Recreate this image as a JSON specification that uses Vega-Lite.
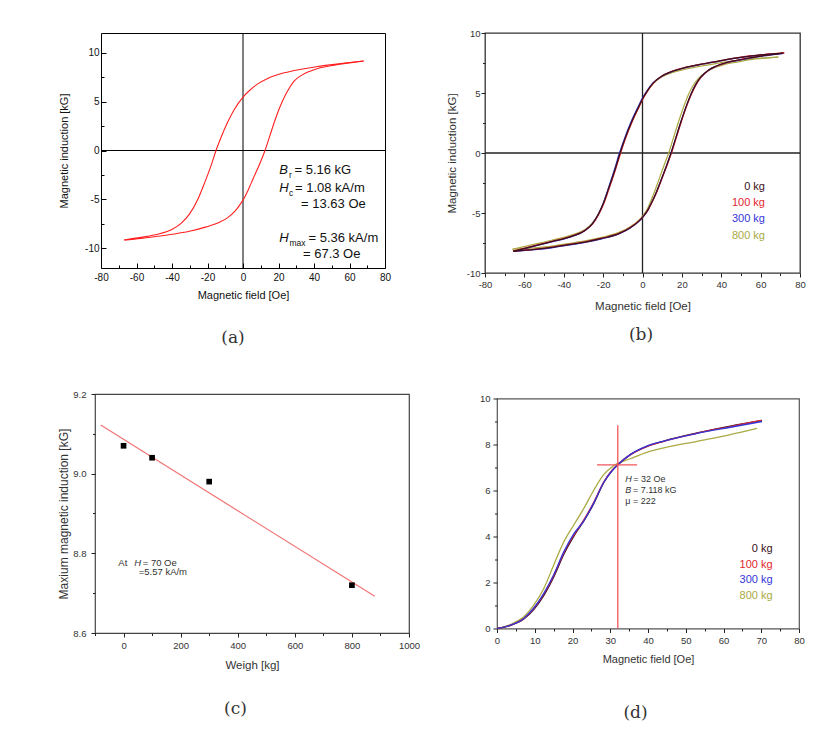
{
"$schema": "https://vega.github.io/schema/vega-lite/v6.json",
"background": "white",
"padding": {"left": 56, "top": 27, "right": 5, "bottom": 5},
"config": {
  "font": "Liberation Sans",
  "axis": {"grid": false, "domain": false, "labelFont": "Liberation Sans", "titleFont": "Liberation Sans", "titleFontWeight": "normal", "labelColor": "#222", "titleColor": "#222", "tickColor": "#222", "labelFlush": false, "labelOverlap": false},
  "title": {"font": "DejaVu Serif", "fontSize": 17, "fontWeight": "normal", "color": "#333"},
  "text": {"font": "Liberation Sans"}
},
"spacing": 41,
"vconcat": [
 {"hconcat": [
  {"width": 1, "height": 1, "view": {"stroke": null}, "data": {"values": [{"v": 0}]}, "mark": {"type": "point", "opacity": 0}},
  {"hconcat": [
  {
   "width": 284, "height": 235,
   "view": {"stroke": "#000", "strokeWidth": 1},
   "title": {"text": "(a)", "orient": "bottom", "frame": "group", "anchor": "middle", "dx": -10, "offset": 30},
   "resolve": {"axis": {"x": "independent", "y": "independent"}},
   "layer": [
    {"data": {"values": [{"x": 0}]}, "mark": {"type": "rule", "color": "#000", "strokeWidth": 1},
     "encoding": {"x": {"field": "x", "type": "quantitative", "scale": {"domain": [-80, 80], "nice": false, "zero": false}, "axis": null}}},
    {"data": {"values": [{"y": 0}]}, "mark": {"type": "rule", "color": "#000", "strokeWidth": 1},
     "encoding": {"y": {"field": "y", "type": "quantitative", "scale": {"domain": [-12, 12], "nice": false, "zero": false}, "axis": null}}},
    {"data": {"values": [
      {"b":"d","x":-66.9,"y":-9.14},{"b":"d","x":-57.5,"y":-8.87},{"b":"d","x":-48.1,"y":-8.56},{"b":"d","x":-39.6,"y":-8.02},{"b":"d","x":-34.9,"y":-7.45},
      {"b":"d","x":-30.2,"y":-6.5},{"b":"d","x":-25.5,"y":-5.0},{"b":"d","x":-21.8,"y":-3.38},{"b":"d","x":-18.0,"y":-1.55},{"b":"d","x":-15.2,"y":0},
      {"b":"d","x":-12.4,"y":1.33},{"b":"d","x":-8.6,"y":2.91},{"b":"d","x":-4.9,"y":4.19},{"b":"d","x":0,"y":5.45},{"b":"d","x":3.5,"y":6.1},
      {"b":"d","x":8.3,"y":6.8},{"b":"d","x":13.9,"y":7.36},{"b":"d","x":23.3,"y":7.94},{"b":"d","x":32.7,"y":8.3},{"b":"d","x":42.1,"y":8.58},
      {"b":"d","x":51.5,"y":8.8},{"b":"d","x":60,"y":8.98},{"b":"d","x":68,"y":9.14},
      {"b":"a","x":-66.9,"y":-9.14},{"b":"a","x":-57.5,"y":-8.97},{"b":"a","x":-48.1,"y":-8.76},{"b":"a","x":-39.6,"y":-8.55},{"b":"a","x":-30.2,"y":-8.25},
      {"b":"a","x":-20.7,"y":-7.8},{"b":"a","x":-13,"y":-7.3},{"b":"a","x":-8.6,"y":-6.85},{"b":"a","x":-4.5,"y":-6.2},{"b":"a","x":-1.4,"y":-5.45},
      {"b":"a","x":0.2,"y":-5.0},{"b":"a","x":3.0,"y":-4.0},{"b":"a","x":6.0,"y":-2.75},{"b":"a","x":9.2,"y":-1.45},{"b":"a","x":12.4,"y":0},
      {"b":"a","x":15.2,"y":1.55},{"b":"a","x":18.6,"y":3.4},{"b":"a","x":22.0,"y":4.95},{"b":"a","x":25.5,"y":6.2},{"b":"a","x":28.9,"y":7.1},
      {"b":"a","x":32.7,"y":7.65},{"b":"a","x":37,"y":8.05},{"b":"a","x":42.1,"y":8.38},{"b":"a","x":51.5,"y":8.72},{"b":"a","x":60,"y":8.95},{"b":"a","x":68,"y":9.14}
     ]},
     "mark": {"type": "line", "color": "#ff1f1f", "strokeWidth": 1.1, "interpolate": "monotone"},
     "encoding": {
      "x": {"field": "x", "type": "quantitative", "scale": {"domain": [-80, 80], "nice": false, "zero": false},
            "axis": {"orient": "bottom", "values": [-80,-60,-40,-20,0,20,40,60,80], "labelExpr": "(datum.value < 0 ? '-' : '') + abs(datum.value)", "tickSize": -5, "tickColor": "#000", "labelPadding": 9.7, "labelFontSize": 10, "labelColor": "#111", "title": "Magnetic field [Oe]", "titleFontSize": 11, "titleColor": "#111", "titleY": 21}},
      "y": {"field": "y", "type": "quantitative", "scale": {"domain": [-12, 12], "nice": false, "zero": false},
            "axis": {"orient": "left", "values": [-10,-5,0,5,10], "labelExpr": "(datum.value < 0 ? '-' : '') + abs(datum.value)", "tickSize": -5, "tickColor": "#000", "labelPadding": 7, "labelFontSize": 10, "labelColor": "#111", "title": "Magnetic induction [kG]", "titleFontSize": 11, "titleColor": "#111", "titleX": -31.5}},
      "detail": {"field": "b"}
     }},
    {"data": {"values": [{"x": 0, "y": 0}]}, "mark": {"type": "point", "opacity": 0},
     "encoding": {
      "x": {"field": "x", "type": "quantitative", "scale": {"domain": [-80, 80], "nice": false, "zero": false},
            "axis": {"orient": "bottom", "values": [-70,-50,-30,-10,10,30,50,70], "labels": false, "tickSize": -3, "tickColor": "#000", "title": null}},
      "y": {"field": "y", "type": "quantitative", "scale": {"domain": [-12, 12], "nice": false, "zero": false},
            "axis": {"orient": "left", "values": [-7.5,-2.5,2.5,7.5], "labels": false, "tickSize": -3, "tickColor": "#000", "title": null}}
     }},
    {"data": {"values": [{"x":20.45,"y":-2.45,"t":"B"},{"x":20.45,"y":-4.24,"t":"H"},{"x":20.45,"y":-9.34,"t":"H"}]},
     "mark": {"type": "text", "align": "left", "baseline": "alphabetic", "fontSize": 13, "fontStyle": "italic", "color": "#111"},
     "encoding": {"x": {"field": "x", "type": "quantitative", "scale": {"domain": [-80, 80], "nice": false, "zero": false}, "axis": null},
                  "y": {"field": "y", "type": "quantitative", "scale": {"domain": [-12, 12], "nice": false, "zero": false}, "axis": null},
                  "text": {"field": "t"}}},
    {"data": {"values": [{"x":25.9,"y":-2.81,"t":"r"},{"x":25.9,"y":-4.65,"t":"c"},{"x":26.2,"y":-9.75,"t":"max"}]},
     "mark": {"type": "text", "align": "left", "baseline": "alphabetic", "fontSize": 8.5, "color": "#111"},
     "encoding": {"x": {"field": "x", "type": "quantitative", "scale": {"domain": [-80, 80], "nice": false, "zero": false}, "axis": null},
                  "y": {"field": "y", "type": "quantitative", "scale": {"domain": [-12, 12], "nice": false, "zero": false}, "axis": null},
                  "text": {"field": "t"}}},
    {"data": {"values": [{"x":29.0,"y":-2.45,"t":"= 5.16 kG"},{"x":29.3,"y":-4.24,"t":"= 1.08 kA/m"},{"x":32.7,"y":-5.84,"t":"= 13.63 Oe"},{"x":36.9,"y":-9.34,"t":"= 5.36 kA/m"},{"x":33.8,"y":-11.01,"t":"= 67.3 Oe"}]},
     "mark": {"type": "text", "align": "left", "baseline": "alphabetic", "fontSize": 13, "color": "#111"},
     "encoding": {"x": {"field": "x", "type": "quantitative", "scale": {"domain": [-80, 80], "nice": false, "zero": false}, "axis": null},
                  "y": {"field": "y", "type": "quantitative", "scale": {"domain": [-12, 12], "nice": false, "zero": false}, "axis": null},
                  "text": {"field": "t"}}}
   ]
  },
  {
   "width": 315, "height": 240,
   "view": {"stroke": "#333", "strokeWidth": 1.3},
   "title": {"text": "(b)", "orient": "bottom", "frame": "group", "anchor": "middle", "dx": -1.5, "offset": 15.4},
   "resolve": {"axis": {"x": "independent", "y": "independent"}},
   "layer": [
    {"data": {"values": [{"x": 0}]}, "mark": {"type": "rule", "color": "#222", "strokeWidth": 1.3},
     "encoding": {"x": {"field": "x", "type": "quantitative", "scale": {"domain": [-80, 80], "nice": false, "zero": false}, "axis": null}}},
    {"data": {"values": [{"y": 0}]}, "mark": {"type": "rule", "color": "#222", "strokeWidth": 1.3},
     "encoding": {"y": {"field": "y", "type": "quantitative", "scale": {"domain": [-10, 10], "nice": false, "zero": false}, "axis": null}}},
    {"data": {"values": [
      {"s":"800 kg","b":"d","x":-66,"y":-8.02},{"s":"800 kg","b":"d","x":-56.3,"y":-7.65},{"s":"800 kg","b":"d","x":-46.1,"y":-7.27},{"s":"800 kg","b":"d","x":-36,"y":-6.85},{"s":"800 kg","b":"d","x":-29.2,"y":-6.38},
      {"s":"800 kg","b":"d","x":-25.5,"y":-5.85},{"s":"800 kg","b":"d","x":-22.4,"y":-5.07},{"s":"800 kg","b":"d","x":-20,"y":-4.23},{"s":"800 kg","b":"d","x":-17.4,"y":-3.04},{"s":"800 kg","b":"d","x":-14,"y":-1.4},
      {"s":"800 kg","b":"d","x":-11.3,"y":0},{"s":"800 kg","b":"d","x":-8.8,"y":1.2},{"s":"800 kg","b":"d","x":-5.4,"y":2.6},{"s":"800 kg","b":"d","x":-2.0,"y":3.8},{"s":"800 kg","b":"d","x":0.4,"y":4.6},
      {"s":"800 kg","b":"d","x":2.6,"y":5.18},{"s":"800 kg","b":"d","x":5.6,"y":5.8},{"s":"800 kg","b":"d","x":9.7,"y":6.33},{"s":"800 kg","b":"d","x":15,"y":6.7},{"s":"800 kg","b":"d","x":21.6,"y":6.98},
      {"s":"800 kg","b":"d","x":30,"y":7.25},{"s":"800 kg","b":"d","x":38.5,"y":7.48},{"s":"800 kg","b":"d","x":47,"y":7.7},{"s":"800 kg","b":"d","x":55.4,"y":7.85},{"s":"800 kg","b":"d","x":63,"y":7.93},{"s":"800 kg","b":"d","x":69,"y":8.0},
      {"s":"800 kg","b":"a","x":-66,"y":-8.02},{"s":"800 kg","b":"a","x":-54.6,"y":-7.9},{"s":"800 kg","b":"a","x":-46.1,"y":-7.76},{"s":"800 kg","b":"a","x":-37.7,"y":-7.55},{"s":"800 kg","b":"a","x":-29.2,"y":-7.33},
      {"s":"800 kg","b":"a","x":-20.7,"y":-7.03},{"s":"800 kg","b":"a","x":-12,"y":-6.62},{"s":"800 kg","b":"a","x":-6,"y":-6.12},{"s":"800 kg","b":"a","x":-2.1,"y":-5.64},{"s":"800 kg","b":"a","x":0.3,"y":-5.22},
      {"s":"800 kg","b":"a","x":2.3,"y":-4.72},{"s":"800 kg","b":"a","x":4.2,"y":-4.0},{"s":"800 kg","b":"a","x":6.4,"y":-3.1},{"s":"800 kg","b":"a","x":8.7,"y":-2.05},{"s":"800 kg","b":"a","x":11.0,"y":-1.0},
      {"s":"800 kg","b":"a","x":13.3,"y":0},{"s":"800 kg","b":"a","x":15.8,"y":1.3},{"s":"800 kg","b":"a","x":18.3,"y":2.6},{"s":"800 kg","b":"a","x":20.8,"y":3.8},{"s":"800 kg","b":"a","x":23.3,"y":4.85},
      {"s":"800 kg","b":"a","x":25.8,"y":5.65},{"s":"800 kg","b":"a","x":28.3,"y":6.2},{"s":"800 kg","b":"a","x":32.3,"y":6.75},{"s":"800 kg","b":"a","x":36.5,"y":7.1},{"s":"800 kg","b":"a","x":41,"y":7.35},
      {"s":"800 kg","b":"a","x":48,"y":7.58},{"s":"800 kg","b":"a","x":55,"y":7.78},{"s":"800 kg","b":"a","x":63,"y":7.92},{"s":"800 kg","b":"a","x":69,"y":8.0},

      {"s":"300 kg","b":"d","x":-65.6,"y":-8.2},{"s":"300 kg","b":"d","x":-56.3,"y":-7.82},{"s":"300 kg","b":"d","x":-46.1,"y":-7.4},{"s":"300 kg","b":"d","x":-36,"y":-6.97},{"s":"300 kg","b":"d","x":-29.3,"y":-6.47},
      {"s":"300 kg","b":"d","x":-25.6,"y":-5.92},{"s":"300 kg","b":"d","x":-22.5,"y":-5.12},{"s":"300 kg","b":"d","x":-20.1,"y":-4.27},{"s":"300 kg","b":"d","x":-17.6,"y":-3.07},{"s":"300 kg","b":"d","x":-14.3,"y":-1.42},
      {"s":"300 kg","b":"d","x":-11.7,"y":0},{"s":"300 kg","b":"d","x":-9.2,"y":1.18},{"s":"300 kg","b":"d","x":-5.9,"y":2.56},{"s":"300 kg","b":"d","x":-2.6,"y":3.72},{"s":"300 kg","b":"d","x":-0.3,"y":4.5},
      {"s":"300 kg","b":"d","x":2.2,"y":5.16},{"s":"300 kg","b":"d","x":5.3,"y":5.83},{"s":"300 kg","b":"d","x":9.7,"y":6.38},{"s":"300 kg","b":"d","x":15,"y":6.78},{"s":"300 kg","b":"d","x":21.6,"y":7.1},
      {"s":"300 kg","b":"d","x":30,"y":7.38},{"s":"300 kg","b":"d","x":38.5,"y":7.63},{"s":"300 kg","b":"d","x":47,"y":7.88},{"s":"300 kg","b":"d","x":55.4,"y":8.08},{"s":"300 kg","b":"d","x":63,"y":8.2},{"s":"300 kg","b":"d","x":71.5,"y":8.3},
      {"s":"300 kg","b":"a","x":-65.6,"y":-8.2},{"s":"300 kg","b":"a","x":-54.6,"y":-8.06},{"s":"300 kg","b":"a","x":-46.1,"y":-7.9},{"s":"300 kg","b":"a","x":-37.7,"y":-7.68},{"s":"300 kg","b":"a","x":-29.2,"y":-7.45},
      {"s":"300 kg","b":"a","x":-20.7,"y":-7.15},{"s":"300 kg","b":"a","x":-12,"y":-6.74},{"s":"300 kg","b":"a","x":-6,"y":-6.22},{"s":"300 kg","b":"a","x":-2.1,"y":-5.74},{"s":"300 kg","b":"a","x":0.3,"y":-5.32},
      {"s":"300 kg","b":"a","x":2.5,"y":-4.82},{"s":"300 kg","b":"a","x":4.7,"y":-4.12},{"s":"300 kg","b":"a","x":7.2,"y":-3.22},{"s":"300 kg","b":"a","x":9.7,"y":-2.17},{"s":"300 kg","b":"a","x":12.1,"y":-1.12},
      {"s":"300 kg","b":"a","x":14.5,"y":0},{"s":"300 kg","b":"a","x":17,"y":1.28},{"s":"300 kg","b":"a","x":19.5,"y":2.58},{"s":"300 kg","b":"a","x":22,"y":3.78},{"s":"300 kg","b":"a","x":24.5,"y":4.83},
      {"s":"300 kg","b":"a","x":27,"y":5.68},{"s":"300 kg","b":"a","x":29.5,"y":6.28},{"s":"300 kg","b":"a","x":33.4,"y":6.88},{"s":"300 kg","b":"a","x":37.5,"y":7.23},{"s":"300 kg","b":"a","x":41.9,"y":7.48},
      {"s":"300 kg","b":"a","x":48,"y":7.7},{"s":"300 kg","b":"a","x":55.4,"y":7.93},{"s":"300 kg","b":"a","x":63,"y":8.12},{"s":"300 kg","b":"a","x":71.5,"y":8.3},

      {"s":"100 kg","b":"d","x":-65.8,"y":-8.17},{"s":"100 kg","b":"d","x":-56.3,"y":-7.78},{"s":"100 kg","b":"d","x":-46.1,"y":-7.36},{"s":"100 kg","b":"d","x":-36,"y":-6.93},{"s":"100 kg","b":"d","x":-29.1,"y":-6.43},
      {"s":"100 kg","b":"d","x":-25.2,"y":-5.88},{"s":"100 kg","b":"d","x":-22.1,"y":-5.08},{"s":"100 kg","b":"d","x":-19.7,"y":-4.23},{"s":"100 kg","b":"d","x":-17.1,"y":-3.03},{"s":"100 kg","b":"d","x":-13.7,"y":-1.38},
      {"s":"100 kg","b":"d","x":-11.1,"y":0},{"s":"100 kg","b":"d","x":-8.6,"y":1.22},{"s":"100 kg","b":"d","x":-5.2,"y":2.62},{"s":"100 kg","b":"d","x":-1.8,"y":3.82},{"s":"100 kg","b":"d","x":0.6,"y":4.62},
      {"s":"100 kg","b":"d","x":2.8,"y":5.22},{"s":"100 kg","b":"d","x":5.8,"y":5.86},{"s":"100 kg","b":"d","x":9.9,"y":6.41},{"s":"100 kg","b":"d","x":15,"y":6.81},{"s":"100 kg","b":"d","x":21.6,"y":7.13},
      {"s":"100 kg","b":"d","x":30,"y":7.41},{"s":"100 kg","b":"d","x":38.5,"y":7.66},{"s":"100 kg","b":"d","x":47,"y":7.91},{"s":"100 kg","b":"d","x":55.4,"y":8.11},{"s":"100 kg","b":"d","x":63,"y":8.23},{"s":"100 kg","b":"d","x":72,"y":8.35},
      {"s":"100 kg","b":"a","x":-65.8,"y":-8.17},{"s":"100 kg","b":"a","x":-54.6,"y":-8.01},{"s":"100 kg","b":"a","x":-46.1,"y":-7.84},{"s":"100 kg","b":"a","x":-37.7,"y":-7.62},{"s":"100 kg","b":"a","x":-29.2,"y":-7.4},
      {"s":"100 kg","b":"a","x":-20.7,"y":-7.1},{"s":"100 kg","b":"a","x":-12,"y":-6.7},{"s":"100 kg","b":"a","x":-6,"y":-6.18},{"s":"100 kg","b":"a","x":-2.1,"y":-5.7},{"s":"100 kg","b":"a","x":0.4,"y":-5.28},
      {"s":"100 kg","b":"a","x":2.7,"y":-4.78},{"s":"100 kg","b":"a","x":4.9,"y":-4.08},{"s":"100 kg","b":"a","x":7.4,"y":-3.18},{"s":"100 kg","b":"a","x":9.9,"y":-2.13},{"s":"100 kg","b":"a","x":12.3,"y":-1.08},
      {"s":"100 kg","b":"a","x":14.7,"y":0},{"s":"100 kg","b":"a","x":17.2,"y":1.3},{"s":"100 kg","b":"a","x":19.7,"y":2.6},{"s":"100 kg","b":"a","x":22.2,"y":3.8},{"s":"100 kg","b":"a","x":24.7,"y":4.85},
      {"s":"100 kg","b":"a","x":27.2,"y":5.7},{"s":"100 kg","b":"a","x":29.7,"y":6.3},{"s":"100 kg","b":"a","x":33.6,"y":6.9},{"s":"100 kg","b":"a","x":37.6,"y":7.25},{"s":"100 kg","b":"a","x":42,"y":7.5},
      {"s":"100 kg","b":"a","x":48,"y":7.73},{"s":"100 kg","b":"a","x":55.4,"y":7.96},{"s":"100 kg","b":"a","x":63,"y":8.16},{"s":"100 kg","b":"a","x":72,"y":8.35},

      {"s":"0 kg","b":"d","x":-65.6,"y":-8.19},{"s":"0 kg","b":"d","x":-56.3,"y":-7.8},{"s":"0 kg","b":"d","x":-46.1,"y":-7.38},{"s":"0 kg","b":"d","x":-36,"y":-6.95},{"s":"0 kg","b":"d","x":-29.2,"y":-6.45},
      {"s":"0 kg","b":"d","x":-25.5,"y":-5.9},{"s":"0 kg","b":"d","x":-22.4,"y":-5.1},{"s":"0 kg","b":"d","x":-20,"y":-4.25},{"s":"0 kg","b":"d","x":-17.4,"y":-3.05},{"s":"0 kg","b":"d","x":-14,"y":-1.4},
      {"s":"0 kg","b":"d","x":-11.4,"y":0},{"s":"0 kg","b":"d","x":-8.9,"y":1.2},{"s":"0 kg","b":"d","x":-5.5,"y":2.6},{"s":"0 kg","b":"d","x":-2.1,"y":3.8},{"s":"0 kg","b":"d","x":0.3,"y":4.6},
      {"s":"0 kg","b":"d","x":2.5,"y":5.2},{"s":"0 kg","b":"d","x":5.5,"y":5.85},{"s":"0 kg","b":"d","x":9.7,"y":6.4},{"s":"0 kg","b":"d","x":15,"y":6.8},{"s":"0 kg","b":"d","x":21.6,"y":7.12},
      {"s":"0 kg","b":"d","x":30,"y":7.4},{"s":"0 kg","b":"d","x":38.5,"y":7.65},{"s":"0 kg","b":"d","x":47,"y":7.9},{"s":"0 kg","b":"d","x":55.4,"y":8.1},{"s":"0 kg","b":"d","x":63,"y":8.22},{"s":"0 kg","b":"d","x":71.5,"y":8.33},
      {"s":"0 kg","b":"a","x":-65.6,"y":-8.19},{"s":"0 kg","b":"a","x":-54.6,"y":-8.03},{"s":"0 kg","b":"a","x":-46.1,"y":-7.86},{"s":"0 kg","b":"a","x":-37.7,"y":-7.64},{"s":"0 kg","b":"a","x":-29.2,"y":-7.42},
      {"s":"0 kg","b":"a","x":-20.7,"y":-7.12},{"s":"0 kg","b":"a","x":-12,"y":-6.72},{"s":"0 kg","b":"a","x":-6,"y":-6.2},{"s":"0 kg","b":"a","x":-2.1,"y":-5.72},{"s":"0 kg","b":"a","x":0.3,"y":-5.3},
      {"s":"0 kg","b":"a","x":2.5,"y":-4.8},{"s":"0 kg","b":"a","x":4.7,"y":-4.1},{"s":"0 kg","b":"a","x":7.2,"y":-3.2},{"s":"0 kg","b":"a","x":9.7,"y":-2.15},{"s":"0 kg","b":"a","x":12.1,"y":-1.1},
      {"s":"0 kg","b":"a","x":14.5,"y":0},{"s":"0 kg","b":"a","x":17,"y":1.3},{"s":"0 kg","b":"a","x":19.5,"y":2.6},{"s":"0 kg","b":"a","x":22,"y":3.8},{"s":"0 kg","b":"a","x":24.5,"y":4.85},
      {"s":"0 kg","b":"a","x":27,"y":5.7},{"s":"0 kg","b":"a","x":29.5,"y":6.3},{"s":"0 kg","b":"a","x":33.4,"y":6.9},{"s":"0 kg","b":"a","x":37.5,"y":7.25},{"s":"0 kg","b":"a","x":41.9,"y":7.5},
      {"s":"0 kg","b":"a","x":48,"y":7.72},{"s":"0 kg","b":"a","x":55.4,"y":7.95},{"s":"0 kg","b":"a","x":63,"y":8.15},{"s":"0 kg","b":"a","x":71.5,"y":8.33}
     ]},
     "mark": {"type": "line", "strokeWidth": 1.25, "interpolate": "monotone"},
     "encoding": {
      "x": {"field": "x", "type": "quantitative", "scale": {"domain": [-80, 80], "nice": false, "zero": false},
            "axis": {"orient": "bottom", "values": [-80,-60,-40,-20,0,20,40,60,80], "labelExpr": "(datum.value < 0 ? '-' : '') + abs(datum.value)", "tickSize": 4, "labelPadding": 2.7, "labelFontSize": 9.5, "labelColor": "#333", "title": "Magnetic field [Oe]", "titleFontSize": 11.5, "titleColor": "#333", "titleY": 27}},
      "y": {"field": "y", "type": "quantitative", "scale": {"domain": [-10, 10], "nice": false, "zero": false},
            "axis": {"orient": "left", "values": [-10,-5,0,5,10], "labelExpr": "(datum.value < 0 ? '-' : '') + abs(datum.value)", "tickSize": 4, "labelPadding": 1, "labelFontSize": 9.5, "labelColor": "#333", "title": "Magnetic induction [kG]", "titleFontSize": 11.5, "titleColor": "#333", "titleX": -27.25}},
      "color": {"field": "s", "type": "nominal", "scale": {"domain": ["0 kg","100 kg","300 kg","800 kg"], "range": ["#3a1020","#e3262e","#3434d8","#aaaa44"]}, "legend": null},
      "detail": {"field": "b"}
     }},
    {"data": {"values": [{"x": 0, "y": 0}]}, "mark": {"type": "point", "opacity": 0},
     "encoding": {
      "x": {"field": "x", "type": "quantitative", "scale": {"domain": [-80, 80], "nice": false, "zero": false},
            "axis": {"orient": "bottom", "values": [-70,-50,-30,-10,10,30,50,70], "labels": false, "tickSize": 2.5, "title": null}},
      "y": {"field": "y", "type": "quantitative", "scale": {"domain": [-10, 10], "nice": false, "zero": false},
            "axis": {"orient": "left", "values": [-7.5,-2.5,2.5,7.5], "labels": false, "tickSize": 2.5, "title": null}}
     }},
    {"data": {"values": [{"s":"0 kg","x":62.2,"y":-2.81},{"s":"100 kg","x":62.2,"y":-4.19},{"s":"300 kg","x":62.2,"y":-5.53},{"s":"800 kg","x":62.2,"y":-6.92}]},
     "mark": {"type": "text", "align": "right", "baseline": "middle", "fontSize": 11},
     "encoding": {"x": {"field": "x", "type": "quantitative", "scale": {"domain": [-80, 80], "nice": false, "zero": false}, "axis": null},
                  "y": {"field": "y", "type": "quantitative", "scale": {"domain": [-10, 10], "nice": false, "zero": false}, "axis": null},
                  "text": {"field": "s"},
                  "color": {"field": "s", "type": "nominal", "scale": {"domain": ["0 kg","100 kg","300 kg","800 kg"], "range": ["#111111","#e3262e","#3434d8","#aaaa44"]}, "legend": null}}}
   ]
  }
  ], "bounds": "flush", "spacing": 100}
 ], "bounds": "flush", "spacing": 5},
 {"hconcat": [
  {
   "width": 314, "height": 239,
   "view": {"stroke": "#444", "strokeWidth": 1.2},
   "title": {"text": "(c)", "orient": "bottom", "frame": "group", "anchor": "middle", "dx": -16.5, "offset": 30.4},
   "resolve": {"axis": {"x": "independent", "y": "independent"}},
   "layer": [
    {"data": {"values": [{"x": -80, "y": 9.122}, {"x": 880, "y": 8.692}]},
     "mark": {"type": "line", "color": "#f07474", "strokeWidth": 1.2},
     "encoding": {"x": {"field": "x", "type": "quantitative", "scale": {"domain": [-100, 1000], "nice": false, "zero": false}, "axis": null},
                  "y": {"field": "y", "type": "quantitative", "scale": {"domain": [8.6, 9.2], "nice": false, "zero": false}, "axis": null}}},
    {"data": {"values": [{"x": 0, "y": 9.07}, {"x": 100, "y": 9.04}, {"x": 300, "y": 8.98}, {"x": 800, "y": 8.72}]},
     "mark": {"type": "point", "shape": "square", "filled": true, "color": "#000", "size": 32, "opacity": 1},
     "encoding": {
      "x": {"field": "x", "type": "quantitative", "scale": {"domain": [-100, 1000], "nice": false, "zero": false},
            "axis": {"orient": "bottom", "values": [0,200,400,600,800,1000], "labelExpr": "'' + datum.value", "tickSize": 4, "labelPadding": 3.4, "labelFontSize": 9.5, "labelColor": "#333", "title": "Weigh [kg]", "titleFontSize": 11.5, "titleColor": "#333", "titleY": 26}},
      "y": {"field": "y", "type": "quantitative", "scale": {"domain": [8.6, 9.2], "nice": false, "zero": false},
            "axis": {"orient": "left", "values": [8.6,8.8,9.0,9.2], "labelExpr": "format(datum.value, '.1f')", "tickSize": 4, "labelPadding": 5, "labelFontSize": 9.5, "labelColor": "#333", "title": "Maxium magnetic induction [kG]", "titleFontSize": 12, "titleColor": "#333", "titleX": -24.5}}
     }},
    {"data": {"values": [{"x": 0, "y": 9}]}, "mark": {"type": "point", "opacity": 0},
     "encoding": {
      "x": {"field": "x", "type": "quantitative", "scale": {"domain": [-100, 1000], "nice": false, "zero": false},
            "axis": {"orient": "bottom", "values": [-100,100,300,500,700,900], "labels": false, "tickSize": 2.5, "title": null}},
      "y": {"field": "y", "type": "quantitative", "scale": {"domain": [8.6, 9.2], "nice": false, "zero": false},
            "axis": {"orient": "left", "values": [8.7,8.9,9.1], "labels": false, "tickSize": 2.5, "title": null}}
     }},
    {"data": {"values": [{"x": -18.3, "y": 8.776, "t": "At"}, {"x": 67.1, "y": 8.776, "t": "= 70 Oe"}, {"x": 53.1, "y": 8.752, "t": "=5.57 kA/m"}]},
     "mark": {"type": "text", "align": "left", "baseline": "middle", "fontSize": 9.5, "color": "#333"},
     "encoding": {"x": {"field": "x", "type": "quantitative", "scale": {"domain": [-100, 1000], "nice": false, "zero": false}, "axis": null},
                  "y": {"field": "y", "type": "quantitative", "scale": {"domain": [8.6, 9.2], "nice": false, "zero": false}, "axis": null},
                  "text": {"field": "t"}}},
    {"data": {"values": [{"x": 37.7, "y": 8.776, "t": "H"}]},
     "mark": {"type": "text", "align": "left", "baseline": "middle", "fontSize": 9.5, "fontStyle": "italic", "color": "#333"},
     "encoding": {"x": {"field": "x", "type": "quantitative", "scale": {"domain": [-100, 1000], "nice": false, "zero": false}, "axis": null},
                  "y": {"field": "y", "type": "quantitative", "scale": {"domain": [8.6, 9.2], "nice": false, "zero": false}, "axis": null},
                  "text": {"field": "t"}}}
   ]
  },
  {
   "width": 302, "height": 230,
   "view": {"stroke": "#555", "strokeWidth": 1.2},
   "title": {"text": "(d)", "orient": "bottom", "frame": "group", "anchor": "middle", "dx": -12.5, "offset": 40.4},
   "resolve": {"axis": {"x": "independent", "y": "independent"}},
   "layer": [
    {"data": {"values": [
      {"s":"800 kg","x":0,"y":0},{"s":"800 kg","x":3.5,"y":0.17},{"s":"800 kg","x":7.1,"y":0.51},{"s":"800 kg","x":9.7,"y":1.01},{"s":"800 kg","x":12.4,"y":1.74},
      {"s":"800 kg","x":15.0,"y":2.75},{"s":"800 kg","x":17.7,"y":3.77},{"s":"800 kg","x":20.3,"y":4.49},{"s":"800 kg","x":23.0,"y":5.22},{"s":"800 kg","x":25.6,"y":6.0},
      {"s":"800 kg","x":28.3,"y":6.7},{"s":"800 kg","x":30.9,"y":7.08},{"s":"800 kg","x":35.3,"y":7.38},{"s":"800 kg","x":39.7,"y":7.66},{"s":"800 kg","x":44.2,"y":7.85},
      {"s":"800 kg","x":53,"y":8.14},{"s":"800 kg","x":61.8,"y":8.43},{"s":"800 kg","x":68.9,"y":8.7},
      {"s":"0 kg","x":0,"y":0},{"s":"0 kg","x":3.5,"y":0.13},{"s":"0 kg","x":7.1,"y":0.41},{"s":"0 kg","x":9.8,"y":0.83},{"s":"0 kg","x":12.5,"y":1.46},
      {"s":"0 kg","x":15.1,"y":2.26},{"s":"0 kg","x":17.8,"y":3.26},{"s":"0 kg","x":20.4,"y":4.03},{"s":"0 kg","x":23.1,"y":4.7},{"s":"0 kg","x":25.7,"y":5.45},
      {"s":"0 kg","x":28.3,"y":6.35},{"s":"0 kg","x":30.5,"y":6.87},{"s":"0 kg","x":32,"y":7.12},{"s":"0 kg","x":35.3,"y":7.56},{"s":"0 kg","x":39.7,"y":7.92},
      {"s":"0 kg","x":44.2,"y":8.15},{"s":"0 kg","x":53,"y":8.5},{"s":"0 kg","x":61.8,"y":8.8},{"s":"0 kg","x":70.2,"y":9.05},
      {"s":"100 kg","x":0,"y":0},{"s":"100 kg","x":3.5,"y":0.14},{"s":"100 kg","x":7.1,"y":0.43},{"s":"100 kg","x":9.7,"y":0.86},{"s":"100 kg","x":12.4,"y":1.5},
      {"s":"100 kg","x":15.0,"y":2.3},{"s":"100 kg","x":17.7,"y":3.3},{"s":"100 kg","x":20.3,"y":4.05},{"s":"100 kg","x":23.0,"y":4.72},{"s":"100 kg","x":25.6,"y":5.48},
      {"s":"100 kg","x":28.3,"y":6.38},{"s":"100 kg","x":30.5,"y":6.88},{"s":"100 kg","x":32,"y":7.12},{"s":"100 kg","x":35.3,"y":7.55},{"s":"100 kg","x":39.7,"y":7.91},
      {"s":"100 kg","x":44.2,"y":8.14},{"s":"100 kg","x":53,"y":8.49},{"s":"100 kg","x":61.8,"y":8.78},{"s":"100 kg","x":70.0,"y":9.05},
      {"s":"300 kg","x":0,"y":0},{"s":"300 kg","x":3.5,"y":0.14},{"s":"300 kg","x":7.1,"y":0.44},{"s":"300 kg","x":9.7,"y":0.88},{"s":"300 kg","x":12.4,"y":1.53},
      {"s":"300 kg","x":15.0,"y":2.33},{"s":"300 kg","x":17.7,"y":3.33},{"s":"300 kg","x":20.3,"y":4.1},{"s":"300 kg","x":23.0,"y":4.68},{"s":"300 kg","x":25.6,"y":5.45},
      {"s":"300 kg","x":28.3,"y":6.36},{"s":"300 kg","x":30.5,"y":6.86},{"s":"300 kg","x":32,"y":7.12},{"s":"300 kg","x":35.3,"y":7.56},{"s":"300 kg","x":39.7,"y":7.93},
      {"s":"300 kg","x":44.2,"y":8.15},{"s":"300 kg","x":53,"y":8.48},{"s":"300 kg","x":61.8,"y":8.75},{"s":"300 kg","x":70.2,"y":9.0}
     ]},
     "mark": {"type": "line", "strokeWidth": 1.3, "interpolate": "monotone"},
     "encoding": {
      "x": {"field": "x", "type": "quantitative", "scale": {"domain": [0, 80], "nice": false, "zero": false},
            "axis": {"orient": "bottom", "values": [0,10,20,30,40,50,60,70,80], "tickSize": 4, "labelPadding": 3.4, "labelFontSize": 9.5, "labelColor": "#333", "title": "Magnetic field [Oe]", "titleFontSize": 11, "titleColor": "#333", "titleY": 25}},
      "y": {"field": "y", "type": "quantitative", "scale": {"domain": [0, 10], "nice": false, "zero": false},
            "axis": {"orient": "left", "values": [0,2,4,6,8,10], "tickSize": 4, "labelPadding": 3, "labelFontSize": 9.5, "labelColor": "#333", "title": null}},
      "color": {"field": "s", "type": "nominal", "scale": {"domain": ["0 kg","100 kg","300 kg","800 kg"], "range": ["#151515","#e3262e","#3434d8","#aaaa44"]}, "legend": null}
     }},
    {"data": {"values": [{"x": 40, "y": 5}]}, "mark": {"type": "point", "opacity": 0},
     "encoding": {
      "x": {"field": "x", "type": "quantitative", "scale": {"domain": [0, 80], "nice": false, "zero": false},
            "axis": {"orient": "bottom", "values": [5,15,25,35,45,55,65,75], "labels": false, "tickSize": 2.5, "title": null}},
      "y": {"field": "y", "type": "quantitative", "scale": {"domain": [0, 10], "nice": false, "zero": false},
            "axis": {"orient": "left", "values": [1,3,5,7,9], "labels": false, "tickSize": 2.5, "title": null}}
     }},
    {"data": {"values": [{"x": 32, "y": 0, "y2": 8.84}]},
     "mark": {"type": "rule", "color": "#f2545b", "strokeWidth": 1.3},
     "encoding": {"x": {"field": "x", "type": "quantitative", "scale": {"domain": [0, 80], "nice": false, "zero": false}, "axis": null},
                  "y": {"field": "y", "type": "quantitative", "scale": {"domain": [0, 10], "nice": false, "zero": false}, "axis": null},
                  "y2": {"field": "y2"}}},
    {"data": {"values": [{"x": 26.5, "x2": 37.1, "y": 7.118}]},
     "mark": {"type": "rule", "color": "#f2545b", "strokeWidth": 1.3},
     "encoding": {"x": {"field": "x", "type": "quantitative", "scale": {"domain": [0, 80], "nice": false, "zero": false}, "axis": null},
                  "x2": {"field": "x2"},
                  "y": {"field": "y", "type": "quantitative", "scale": {"domain": [0, 10], "nice": false, "zero": false}, "axis": null}}},
    {"data": {"values": [{"x": 34.0, "y": 6.52, "t": "H"}, {"x": 34.0, "y": 6.03, "t": "B"}]},
     "mark": {"type": "text", "align": "left", "baseline": "middle", "fontSize": 9, "fontStyle": "italic", "color": "#333"},
     "encoding": {"x": {"field": "x", "type": "quantitative", "scale": {"domain": [0, 80], "nice": false, "zero": false}, "axis": null},
                  "y": {"field": "y", "type": "quantitative", "scale": {"domain": [0, 10], "nice": false, "zero": false}, "axis": null},
                  "text": {"field": "t"}}},
    {"data": {"values": [{"x": 36.1, "y": 6.52, "t": "= 32 Oe"}, {"x": 36.0, "y": 6.03, "t": "= 7.118 kG"}, {"x": 34.0, "y": 5.53, "t": "μ = 222"}]},
     "mark": {"type": "text", "align": "left", "baseline": "middle", "fontSize": 9, "color": "#333"},
     "encoding": {"x": {"field": "x", "type": "quantitative", "scale": {"domain": [0, 80], "nice": false, "zero": false}, "axis": null},
                  "y": {"field": "y", "type": "quantitative", "scale": {"domain": [0, 10], "nice": false, "zero": false}, "axis": null},
                  "text": {"field": "t"}}},
    {"data": {"values": [{"s":"0 kg","x":73.0,"y":3.45},{"s":"100 kg","x":73.0,"y":2.75},{"s":"300 kg","x":73.0,"y":2.1},{"s":"800 kg","x":73.0,"y":1.42}]},
     "mark": {"type": "text", "align": "right", "baseline": "middle", "fontSize": 11},
     "encoding": {"x": {"field": "x", "type": "quantitative", "scale": {"domain": [0, 80], "nice": false, "zero": false}, "axis": null},
                  "y": {"field": "y", "type": "quantitative", "scale": {"domain": [0, 10], "nice": false, "zero": false}, "axis": null},
                  "text": {"field": "s"},
                  "color": {"field": "s", "type": "nominal", "scale": {"domain": ["0 kg","100 kg","300 kg","800 kg"], "range": ["#151515","#e3262e","#3434d8","#aaaa44"]}, "legend": null}}}
   ]
  }
 ], "bounds": "flush", "spacing": 88, "center": true}
]
}
